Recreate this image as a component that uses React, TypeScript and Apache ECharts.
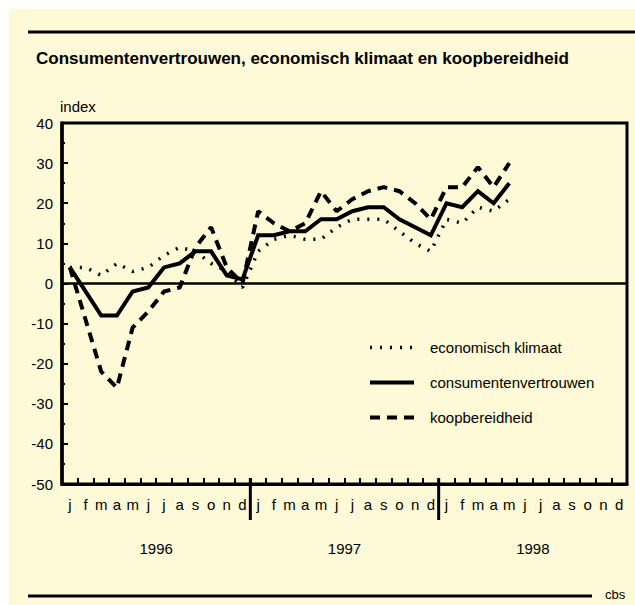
import React, { useEffect, useRef } from 'react';
import * as echarts from 'echarts';

const years = ['1996', '1997', '1998'];
const monthLetters = ['j', 'f', 'm', 'a', 'm', 'j', 'j', 'a', 's', 'o', 'n', 'd'];
const categories = years.flatMap((y) => monthLetters.map((_, i) => `${y}-${String(i + 1).padStart(2, '0')}`));

const economischKlimaat = [4, 4, 2, 5, 3, 4, 7, 9, 8, 5, 3, -1, 8, 11, 12, 11, 11, 14, 16, 16, 16, 13, 10, 8, 16, 15, 19, 18, 21];
const consumentenvertrouwen = [4, -2, -8, -8, -2, -1, 4, 5, 8, 8, 2, 1, 12, 12, 13, 13, 16, 16, 18, 19, 19, 16, 14, 12, 20, 19, 23, 20, 25];
const koopbereidheid = [4, -9, -22, -26, -11, -7, -2, -1, 9, 14, 4, 0, 18, 15, 13, 15, 23, 18, 21, 23, 24, 23, 20, 16, 24, 24, 29, 24, 30];

const yMin = -50;
const yMax = 40;
const yInterval = 10;

const FONT = '"Liberation Sans", Arial, Helvetica, sans-serif';
const BG = '#FEF9D6';

const dotted = { color: '#000', width: 3.5, type: [2, 8] as number[], cap: 'butt' };
const solid = { color: '#000', width: 4, type: 'solid', join: 'miter' };
const dashed = { color: '#000', width: 4, type: [10, 7] as number[], cap: 'butt' };

export default function App() {
  const ref = useRef<HTMLDivElement>(null);

  useEffect(() => {
    if (!ref.current) return;
    const chart = echarts.init(ref.current, null, { renderer: 'svg' });

    const baseGraphics: any[] = [
      { id: 'topRule', type: 'line', shape: { x1: 19, y1: 23, x2: 626, y2: 23 }, style: { stroke: '#000', lineWidth: 3 } },
      { id: 'bottomRule', type: 'line', shape: { x1: 19, y1: 587, x2: 583, y2: 587 }, style: { stroke: '#000', lineWidth: 3 } },
      { id: 'cbs', type: 'text', x: 596, y: 585, style: { text: 'cbs', font: `13px ${FONT}`, fill: '#000', verticalAlign: 'middle', align: 'left' } },
    ];

    const option: any = {
      animation: false,
      backgroundColor: BG,
      textStyle: { fontFamily: FONT },
      title: {
        text: 'Consumentenvertrouwen, economisch klimaat en koopbereidheid',
        left: 27,
        top: 41,
        padding: 0,
        textStyle: { fontFamily: FONT, fontSize: 17, fontWeight: 'bold', color: '#000' },
      },
      legend: {
        orient: 'vertical',
        left: 359,
        top: 331,
        padding: 0,
        itemWidth: 44,
        itemHeight: 14,
        itemGap: 20,
        itemStyle: { opacity: 0 },
        textStyle: { fontFamily: FONT, fontSize: 15, color: '#000', padding: [0, 0, 0, 11] },
        data: [
          { name: 'economisch klimaat', lineStyle: { ...dotted } },
          { name: 'consumentenvertrouwen', lineStyle: { ...solid } },
          { name: 'koopbereidheid', lineStyle: { ...dashed } },
        ],
      },
      grid: {
        left: 53,
        top: 114,
        right: 8,
        bottom: 121,
        show: true,
        borderColor: '#000',
        borderWidth: 3,
        backgroundColor: 'transparent',
      },
      xAxis: [
        {
          type: 'category',
          data: categories,
          boundaryGap: true,
          position: 'bottom',
          axisLine: { show: true, onZero: false, lineStyle: { color: '#000', width: 3 } },
          axisTick: { show: true, inside: true, length: 6, interval: 0, lineStyle: { color: '#000', width: 2 } },
          axisLabel: {
            interval: 0,
            margin: 13,
            color: '#000',
            fontSize: 15,
            fontFamily: FONT,
            formatter: (_v: string, i: number) => monthLetters[i % 12],
          },
          splitLine: { show: false },
        },
        {
          type: 'category',
          data: years,
          position: 'bottom',
          axisLine: { show: false, onZero: false },
          axisTick: { show: false },
          axisLabel: { margin: 57, color: '#000', fontSize: 15, fontFamily: FONT },
          splitLine: { show: false },
        },
      ],
      yAxis: {
        type: 'value',
        min: yMin,
        max: yMax,
        interval: yInterval,
        name: 'index',
        nameLocation: 'end',
        nameGap: 9,
        nameTextStyle: { fontFamily: FONT, fontSize: 15, color: '#000', align: 'left', padding: [0, 0, 0, -2] },
        axisLine: { show: true, onZero: false, lineStyle: { color: '#000', width: 3.5 } },
        axisTick: { show: true, inside: true, length: 6, lineStyle: { color: '#000', width: 2 } },
        minorTick: { show: true, splitNumber: 2, length: 3, lineStyle: { color: '#000', width: 2 } },
        axisLabel: { margin: 9, color: '#000', fontSize: 15, fontFamily: FONT },
        splitLine: { show: false },
      },
      series: [
        {
          name: 'economisch klimaat',
          type: 'line',
          data: economischKlimaat,
          symbol: 'none',
          z: 3,
          lineStyle: { ...dotted },
          itemStyle: { color: '#000' },
        },
        {
          name: 'consumentenvertrouwen',
          type: 'line',
          data: consumentenvertrouwen,
          symbol: 'none',
          z: 4,
          lineStyle: { ...solid },
          itemStyle: { color: '#000' },
          markLine: {
            silent: true,
            symbol: ['none', 'none'],
            label: { show: false },
            lineStyle: { color: '#000', width: 2.5, type: 'solid' },
            data: [{ yAxis: 0 }],
          },
        },
        {
          name: 'koopbereidheid',
          type: 'line',
          data: koopbereidheid,
          symbol: 'none',
          z: 3,
          lineStyle: { ...dashed },
          itemStyle: { color: '#000' },
        },
      ],
      graphic: { elements: baseGraphics },
    };

    chart.setOption(option);

    const yBottom = chart.convertToPixel({ yAxisIndex: 0 }, yMin) as number;
    const seps: any[] = [];
    for (let k = 1; k < years.length; k++) {
      const a = chart.convertToPixel({ xAxisIndex: 0 }, k * 12 - 1) as number;
      const b = chart.convertToPixel({ xAxisIndex: 0 }, k * 12) as number;
      const x = (a + b) / 2;
      seps.push({
        id: `sep${k}`,
        type: 'line',
        shape: { x1: x, y1: yBottom - 6, x2: x, y2: yBottom + 36 },
        style: { stroke: '#000', lineWidth: 3 },
      });
    }
    chart.setOption({ graphic: { elements: [...baseGraphics, ...seps] } });

    return () => chart.dispose();
  }, []);

  return (
    <div
      ref={ref}
      style={{ position: 'fixed', left: 9, top: 9, width: 626, height: 596, background: BG }}
    />
  );
}
